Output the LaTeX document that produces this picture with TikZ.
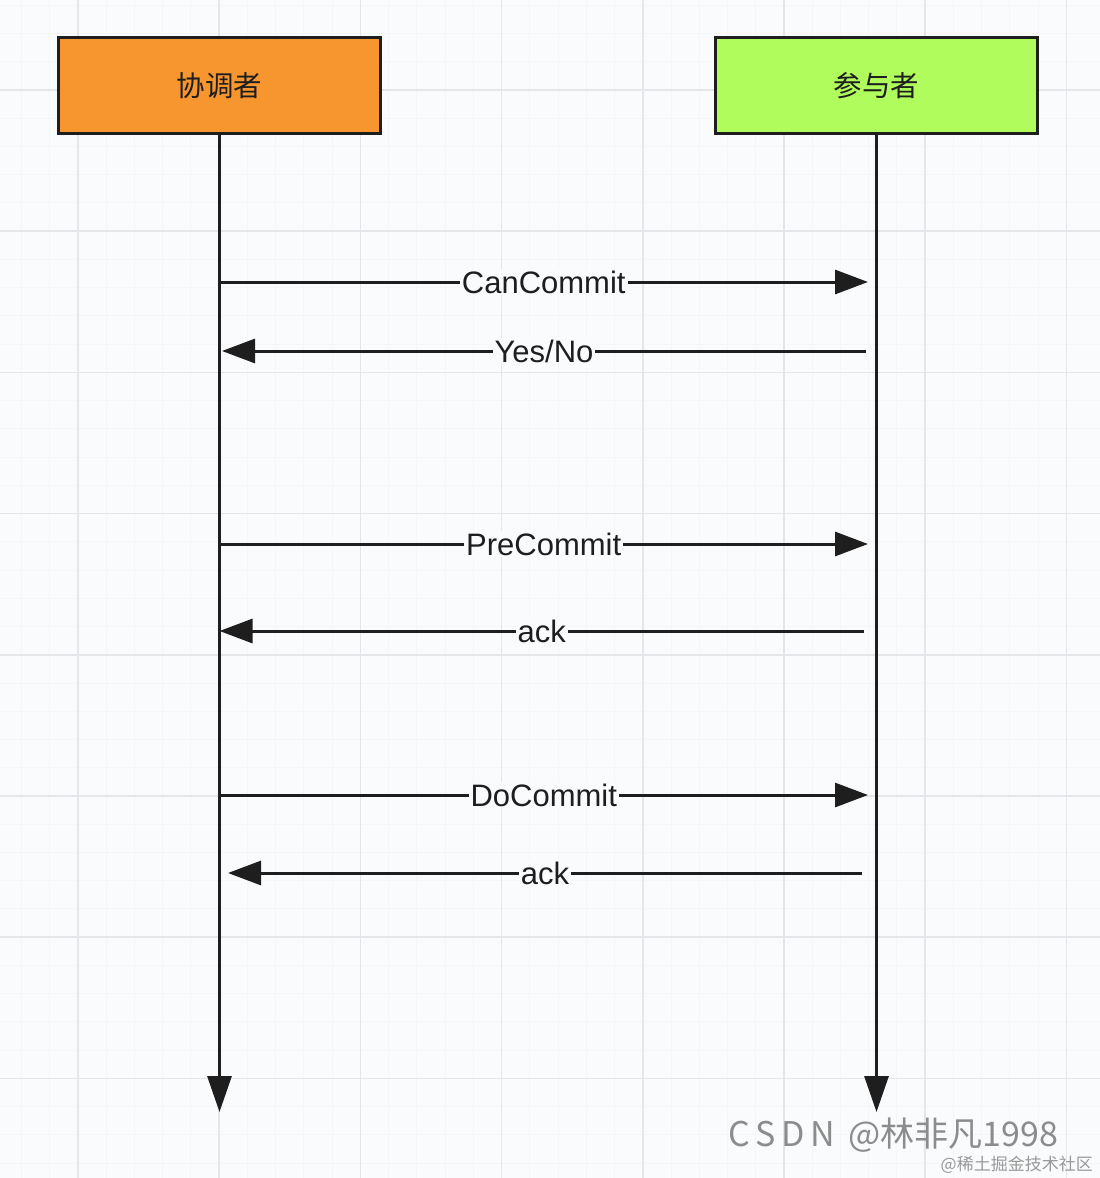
\documentclass[tikz,border=0pt]{standalone}
\usepackage{fontspec}
\setmainfont{Liberation Sans}
\newfontfamily\cjk{Noto Sans CJK SC}
\usetikzlibrary{arrows.meta}
\definecolor{bgpaper}{HTML}{FAFBFC}
\definecolor{gridmajor}{HTML}{E4E6EA}
\definecolor{gridminor}{HTML}{F5F6F8}
\definecolor{coordfill}{HTML}{F7962F}
\definecolor{partfill}{HTML}{B0FC5C}
\definecolor{ink}{HTML}{1E1E1E}

\begin{document}
\begin{tikzpicture}[
  x=1pt, y=-1pt,
  box/.style={draw=ink, line width=3pt, minimum width=322pt, minimum height=96pt, text=ink, font=\cjk\fontsize{28.5}{32}\selectfont},
  life/.style={draw=ink, line width=3pt, -{Triangle[length=36pt, width=24pt]}},
  arrow/.style={draw=ink, line width=3pt, -{Triangle[length=33pt, width=24pt]}},
  msg/.style={midway, fill=bgpaper, inner sep=2pt, text=ink, font=\fontsize{31}{36}\selectfont}
]
\useasboundingbox (0,0) rectangle (1100,1178);
\fill[bgpaper] (0,0) rectangle (1100,1178);
\foreach \i in {0,...,38} {
  \draw[gridminor, line width=1pt] (78-3*28.24+\i*28.24,0) -- ++(0,1178);
}
\foreach \i in {0,...,41} {
  \draw[gridminor, line width=1pt] (0,90-3*28.24+\i*28.24) -- ++(1100,0);
}
\foreach \i in {0,...,7} {
  \draw[gridmajor, line width=1.5pt] (78+\i*141.2,0) -- ++(0,1178);
  \draw[gridmajor, line width=1.5pt] (0,90+\i*141.2) -- ++(1100,0);
}

\node[box, fill=coordfill] (coord) at (219.5,85.5) {协调者};
\node[box, fill=partfill] (part) at (876.5,85.5) {参与者};

\coordinate (coordEnd) at (coord.south |- 0,1112);
\coordinate (partEnd) at (part.south |- 0,1112);
\draw[life] (coord.south) -- (coordEnd);
\draw[life] (part.south) -- (partEnd);

\coordinate (cc1) at (coord.south |- 0,282);  \coordinate (pp1) at (868,282);
\coordinate (pp2) at (866,351);               \coordinate (cc2) at (222,351);
\coordinate (cc3) at (coord.south |- 0,544);  \coordinate (pp3) at (868,544);
\coordinate (pp4) at (864,631);               \coordinate (cc4) at (coord.south |- 0,631);
\coordinate (cc5) at (coord.south |- 0,795);  \coordinate (pp5) at (868,795);
\coordinate (pp6) at (862,873);               \coordinate (cc6) at (228,873);

\draw[arrow] (cc1) -- node[msg] {CanCommit} (pp1);
\draw[arrow] (pp2) -- node[msg] {Yes/No} (cc2);
\draw[arrow] (cc3) -- node[msg] {PreCommit} (pp3);
\draw[arrow] (pp4) -- node[msg] {ack} (cc4);
\draw[arrow] (cc5) -- node[msg] {DoCommit} (pp5);
\draw[arrow] (pp6) -- node[msg] {ack} (cc6);

\node[anchor=base west, inner sep=0pt, text=black!45, font=\cjk\fontsize{34}{36}\selectfont] (mark) at (728,1146) {C\,S\,D\,N \,@林非凡1998};
\node[anchor=base east, inner sep=0pt, text=black!40, font=\cjk\fontsize{17}{20}\selectfont] (mark2) at (1093,1170) {@稀土掘金技术社区};
\end{tikzpicture}
\end{document}
